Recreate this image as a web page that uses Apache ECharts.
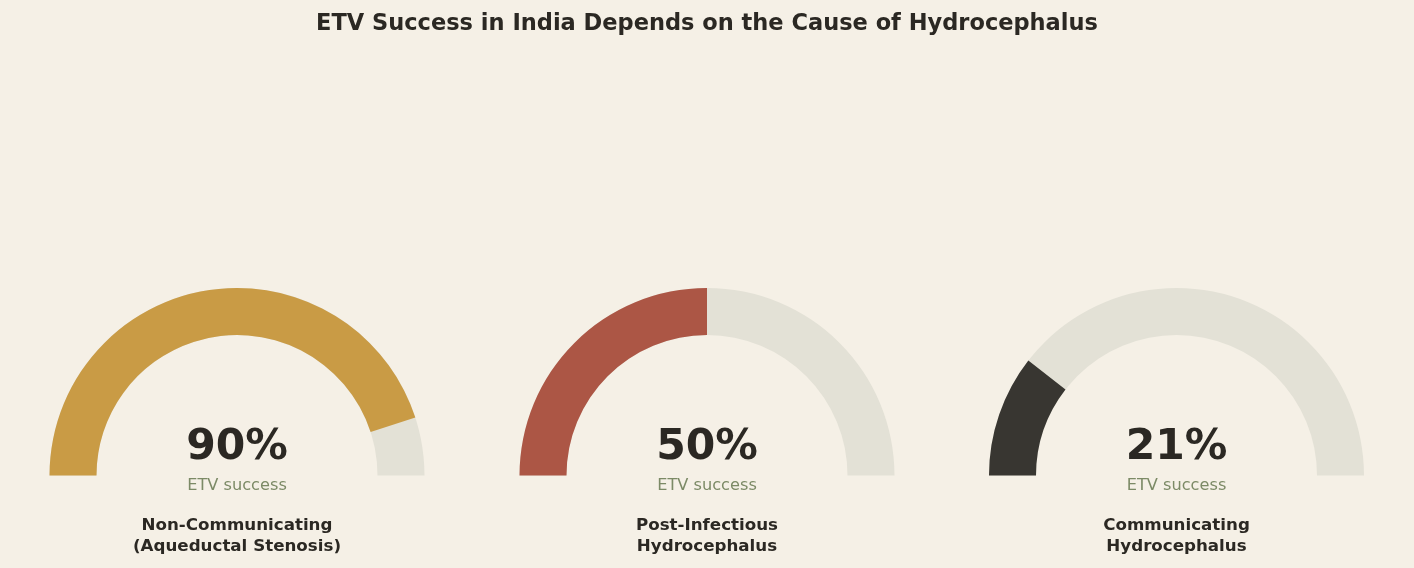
<!DOCTYPE html>
<html>
<head>
<meta charset="utf-8">
<script src="https://cdn.jsdelivr.net/npm/echarts@6/dist/echarts.min.js"></script>
<style>
  html, body { margin: 0; padding: 0; background: #f5f0e6; }
  #chart { width: 1414px; height: 568px; }
</style>
</head>
<body>
<div id="chart"></div>
<script>
const chartTitle = 'ETV Success in India Depends on the Cause of Hydrocephalus';
const categories = ['Non-Communicating\n(Aqueductal Stenosis)', 'Post-Infectious\nHydrocephalus', 'Communicating\nHydrocephalus'];
const successRates = [90, 50, 21];
const gaugeColors = ['#c99b45', '#ac5645', '#383631'];
const subLabel = 'ETV success';

const FONT = '"DejaVu Sans", Verdana, sans-serif';
const centersX = [237, 707, 1176.5];
const centerY = 475.5;
const outerR = 187.5;
const bandW = 47;

const series = successRates.map((v, i) => ({
  type: 'gauge',
  center: [centersX[i], centerY],
  radius: outerR,
  startAngle: 180,
  endAngle: 0,
  min: 0,
  max: 100,
  animation: false,
  axisLine: { roundCap: false, lineStyle: { width: bandW, color: [[1, '#e3e1d6']] } },
  progress: { show: true, width: bandW, roundCap: false, itemStyle: { color: gaugeColors[i] } },
  pointer: { show: false },
  anchor: { show: false },
  axisTick: { show: false },
  splitLine: { show: false },
  axisLabel: { show: false },
  title: {
    offsetCenter: [0, 10],
    fontFamily: FONT,
    fontSize: 16.2,
    color: '#7c8a66'
  },
  detail: {
    offsetCenter: [0, -28],
    fontFamily: FONT,
    fontSize: 42.5,
    fontWeight: 'bold',
    color: '#2b2823',
    formatter: '{value}%'
  },
  data: [{ value: v, name: subLabel }]
}));

const graphics = categories.map((c, i) => ({
  type: 'text',
  x: centersX[i],
  y: 515,
  style: {
    text: c,
    textAlign: 'center',
    textVerticalAlign: 'top',
    fontFamily: FONT,
    fontSize: 16.7,
    fontWeight: 'bold',
    lineHeight: 21,
    fill: '#2b2823'
  }
}));

const chart = echarts.init(document.getElementById('chart'));
chart.setOption({
  backgroundColor: '#f5f0e6',
  title: {
    text: chartTitle,
    left: 'center',
    top: 8,
    textStyle: { fontFamily: FONT, fontSize: 22.5, fontWeight: 'bold', color: '#2b2823' }
  },
  series: series,
  graphic: graphics
});
</script>
</body>
</html>
